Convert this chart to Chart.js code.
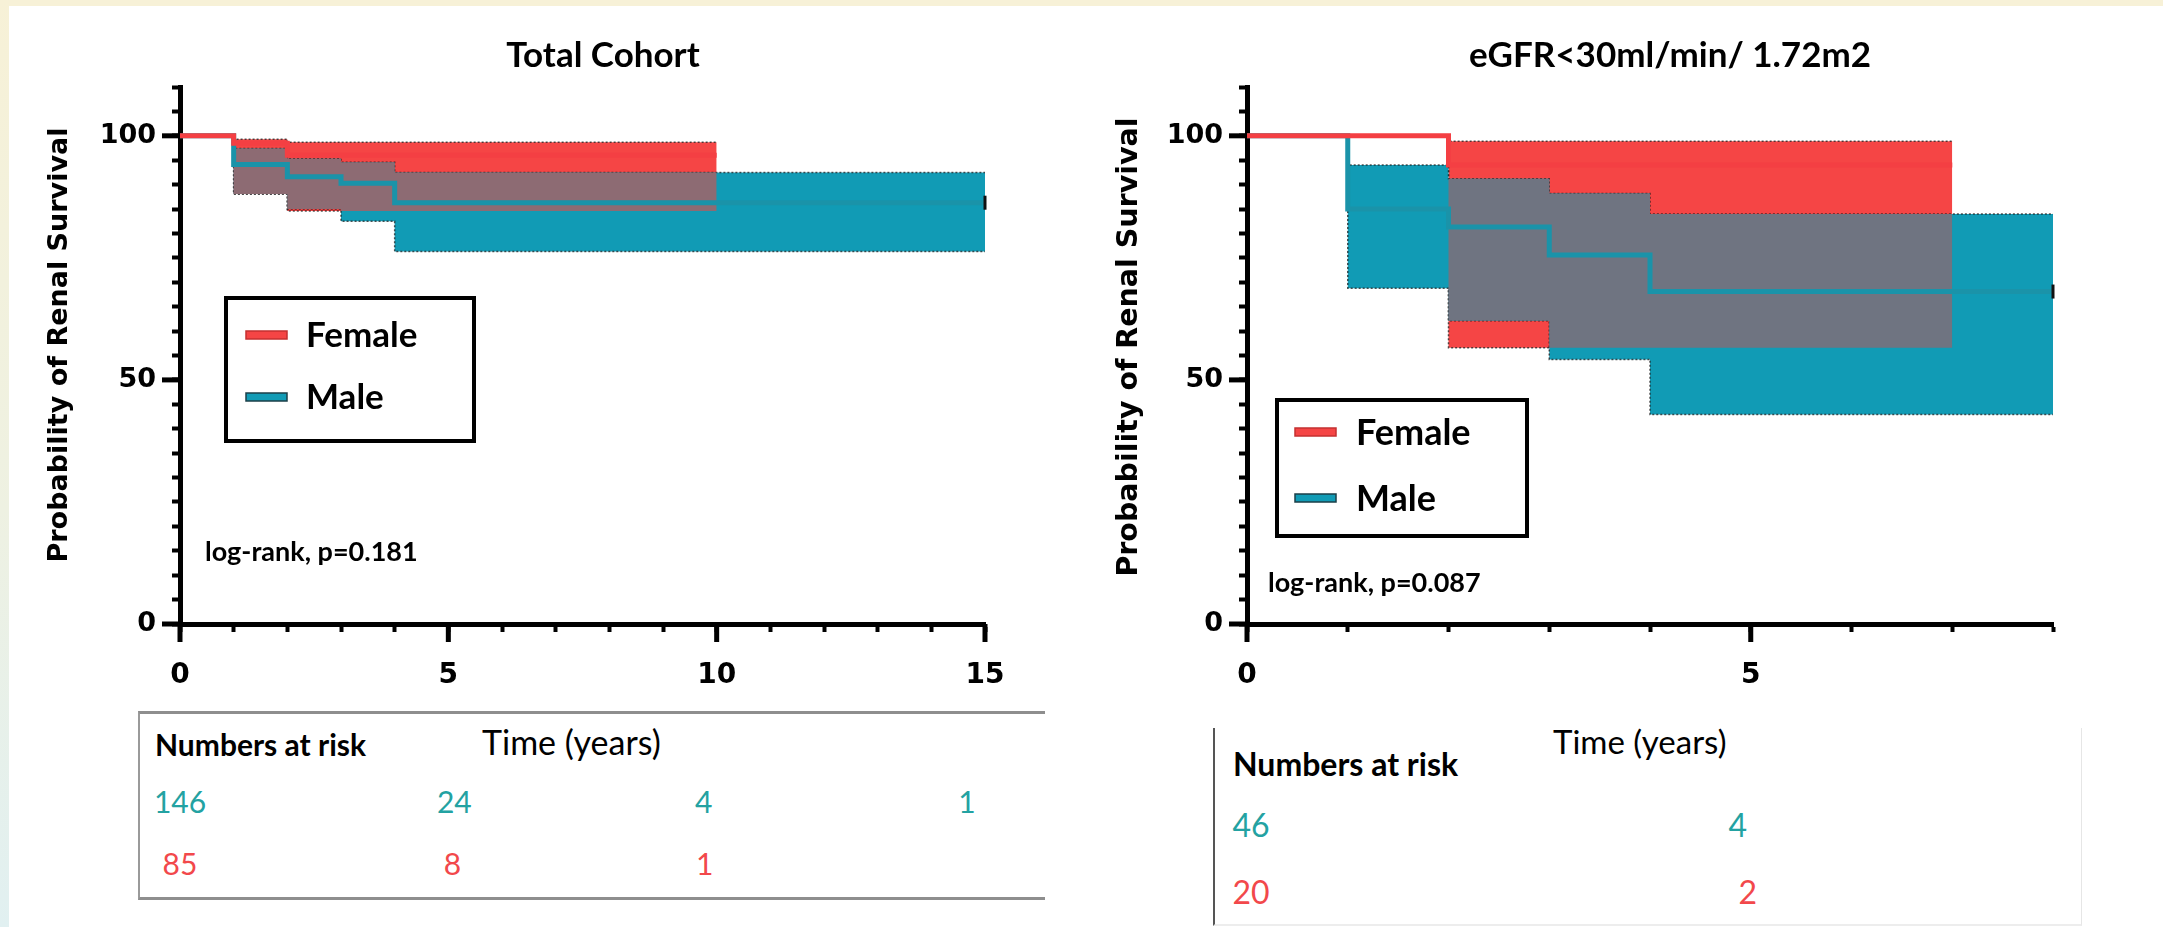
<!DOCTYPE html>
<html>
<head>
<meta charset="utf-8">
<script src="https://cdn.jsdelivr.net/npm/chart.js@4.4.1/dist/chart.umd.min.js"></script>
<style>
  html, body { margin: 0; padding: 0; }
  body { width: 2163px; height: 927px; position: relative; overflow: hidden; background: #fff; font-family: Lato, sans-serif; }
  .band-top { position: absolute; left: 0; top: 0; width: 2163px; height: 6px; background: #f7f1d7; }
  .band-left { position: absolute; left: 0; top: 0; width: 9px; height: 927px; background: linear-gradient(#f7f1d7, #eef1e2 55%, #e1f0f1); }
  canvas { position: absolute; top: 0; }
  #c1 { left: 0; }
  #c2 { left: 1080px; }
  .box1 { position: absolute; left: 138px; top: 711px; width: 905px; height: 183px; border-top: 3px solid #8e8e8e; border-bottom: 3px solid #8e8e8e; border-left: 2px solid #9a9a9a; }
  .box2 { position: absolute; left: 1213px; top: 728px; width: 866px; height: 196px; border-left: 2px solid #555; border-right: 1px solid #e6e6e6; border-bottom: 2px solid #ededed; }
  .lbl { position: absolute; white-space: nowrap; line-height: 1; transform: translateY(-50%); }
  .lbl.c { transform: translate(-50%, -50%); }
</style>
</head>
<body>
<div class="band-top"></div>
<div class="band-left"></div>
<div class="box1"></div>
<div class="box2"></div>
<canvas id="c1" width="1080" height="700"></canvas>
<canvas id="c2" width="1083" height="700"></canvas>
<div id="risk"></div>

<script>
// ---- Total cohort (Kaplan-Meier steps: value holds from each time onward) ----
const totalFemaleT = [0, 1, 2, 10];
const totalFemaleS = [100, 98.5, 96, 96];
const totalFemaleUpper = [100, 99.3, 98.7, 98.7];
const totalFemaleLower = [100, 88.1, 84.6, 84.6];
const totalMaleT = [0, 1, 2, 3, 4, 15];
const totalMaleS = [100, 94.1, 91.6, 90.3, 86.3, 86.3];
const totalMaleUpper = [100, 97.4, 95.3, 94.6, 92.5, 92.5];
const totalMaleLower = [100, 88.1, 85.0, 82.5, 76.3, 76.3];

// ---- eGFR<30 ----
const egfrFemaleT = [0, 2, 7];
const egfrFemaleS = [100, 94, 94];
const egfrFemaleUpper = [100, 98.9, 98.9];
const egfrFemaleLower = [100, 56.6, 56.6];
const egfrMaleT = [0, 1, 2, 3, 4, 8];
const egfrMaleS = [100, 85, 81.3, 75.6, 68.1, 68.1];
const egfrMaleUpper = [100, 94.0, 91.2, 88.2, 84.0, 84.0];
const egfrMaleLower = [100, 68.8, 62.1, 54.2, 42.9, 42.9];

// ---- numbers at risk ----
const riskTimesTotal = [0, 5, 10, 15];
const riskMaleTotal = [146, 24, 4, 1];
const riskFemaleTotal = [85, 8, 1];
const riskTimesEgfr = [0, 5];
const riskMaleEgfr = [46, 4];
const riskFemaleEgfr = [20, 2];

const RED = '#f54545';
const RED_LINE = '#f43f43';
const TEAL = '#119bb5';
const TEAL_LINE = '#1a93a9';
const EDGE = 'rgba(30,30,30,0.75)';

function pts(t, v) {
  return t.map((x, i) => ({ x: x, y: v[i] }));
}

function stepVal(t, v, x) {
  let r = v[0];
  for (let i = 0; i < t.length; i++) if (t[i] <= x) r = v[i];
  return r;
}

// region where both confidence bands cover (drawn in its own colour)
function overlap(tA, upA, loA, tB, upB, loB) {
  const end = Math.min(tA[tA.length - 1], tB[tB.length - 1]);
  const ts = [...new Set([...tA, ...tB])].filter((x) => x <= end).sort((a, b) => a - b);
  const up = [], lo = [];
  ts.forEach((x) => {
    const u = Math.min(stepVal(tA, upA, x), stepVal(tB, upB, x));
    let l = Math.max(stepVal(tA, loA, x), stepVal(tB, loB, x));
    if (l > u) l = u;
    up.push({ x: x, y: u });
    lo.push({ x: x, y: l });
  });
  return { up, lo };
}

function buildDatasets(f, m, overlapColor) {
  const ov = overlap(f.t, f.up, f.lo, m.t, m.up, m.lo);
  const band = { stepped: true, pointRadius: 0, borderWidth: 1.5, borderDash: [2, 2], borderColor: EDGE, tension: 0 };
  return [
    { label: 'Female', data: pts(f.t, f.s), borderColor: RED_LINE, backgroundColor: RED, borderWidth: 5, stepped: true, pointRadius: 0, order: 1, clip: false },
    { label: 'Male', data: pts(m.t, m.s), borderColor: TEAL_LINE, backgroundColor: TEAL, borderWidth: 5, stepped: true, order: 2, clip: false,
      pointRadius: m.t.map((_, i) => (i === m.t.length - 1 ? 7 : 0)), pointStyle: 'line', rotation: 90,
      pointBorderColor: '#111', pointBorderWidth: 3 },
    { label: 'ov-up', data: ov.up, stepped: true, pointRadius: 0, borderWidth: 0, order: 4 },
    { label: 'ov-lo', data: ov.lo, stepped: true, pointRadius: 0, borderWidth: 0, order: 4, fill: '-1', backgroundColor: overlapColor },
    Object.assign({ label: 'm-up', data: pts(m.t, m.up), order: 5 }, band),
    Object.assign({ label: 'm-lo', data: pts(m.t, m.lo), order: 5, fill: '-1', backgroundColor: TEAL }, band),
    Object.assign({ label: 'f-up', data: pts(f.t, f.up), order: 6 }, band),
    Object.assign({ label: 'f-lo', data: pts(f.t, f.lo), order: 6, fill: '-1', backgroundColor: RED }, band)
  ];
}

// longer ticks at labelled values
const majorTicks = {
  id: 'majorTicks',
  afterDraw(chart) {
    const { ctx, chartArea: a, scales: { x, y } } = chart;
    ctx.save();
    ctx.strokeStyle = '#000';
    ctx.lineWidth = 5;
    x.ticks.forEach((t) => {
      if (t.value % 5 !== 0) return;
      const px = x.getPixelForValue(t.value);
      ctx.beginPath(); ctx.moveTo(px, a.bottom); ctx.lineTo(px, a.bottom + 18); ctx.stroke();
    });
    y.ticks.forEach((t) => {
      if (t.value % 50 !== 0) return;
      const py = y.getPixelForValue(t.value);
      ctx.beginPath(); ctx.moveTo(a.left, py); ctx.lineTo(a.left - 18, py); ctx.stroke();
    });
    ctx.restore();
  }
};

// title, y title, boxed legend and log-rank note
const decor = {
  id: 'decor',
  afterDraw(chart, args, o) {
    const ctx = chart.ctx;
    ctx.save();
    ctx.fillStyle = '#000';
    ctx.textBaseline = 'middle';
    ctx.textAlign = 'center';
    ctx.font = 'bold 35px Lato';
    ctx.fillText(o.title, o.titleX, o.titleY);

    ctx.save();
    ctx.translate(o.yTitleX, o.yTitleY);
    ctx.rotate(-Math.PI / 2);
    ctx.font = 'bold ' + o.yTitleSize + 'px "DejaVu Sans"';
    ctx.fillText(o.yTitle, 0, 0);
    ctx.restore();

    const b = o.legend;
    ctx.lineWidth = 4;
    ctx.strokeStyle = '#000';
    ctx.strokeRect(b.x, b.y, b.w, b.h);
    const items = chart.data.datasets.slice(0, 2);
    items.forEach((ds, i) => {
      const yy = b.rowY[i];
      ctx.fillStyle = ds.backgroundColor;
      ctx.fillRect(b.sx, yy - 4, 41, 8);
      ctx.lineWidth = 1.5;
      ctx.strokeStyle = i === 0 ? '#c43030' : '#1b3f48';
      ctx.strokeRect(b.sx, yy - 4, 41, 8);
      ctx.fillStyle = '#000';
      ctx.textAlign = 'left';
      ctx.font = 'bold ' + b.size + 'px Lato';
      ctx.fillText(ds.label, b.tx, yy + 1);
    });

    ctx.font = 'bold 27px Lato';
    ctx.textAlign = 'left';
    ctx.fillText(o.logrank, o.lrX, o.lrY);
    ctx.restore();
  }
};

function makeChart(id, datasets, xMax, decorOpts, rightPad, leftW) {
  return new Chart(document.getElementById(id), {
    type: 'line',
    data: { datasets: datasets },
    options: {
      responsive: false,
      animation: false,
      layout: { padding: { left: 0, top: 87, right: rightPad, bottom: 0 } },
      plugins: {
        legend: { display: false },
        title: { display: false },
        tooltip: { enabled: false },
        filler: { propagate: false },
        decor: decorOpts
      },
      scales: {
        x: {
          type: 'linear', min: 0, max: xMax,
          ticks: { stepSize: 1, autoSkip: false, maxRotation: 0, padding: 27, color: '#000',
            font: { family: 'DejaVu Sans', weight: 'bold', size: 28 },
            callback: (v) => (v % 5 === 0 ? v : '') },
          grid: { drawOnChartArea: false, drawTicks: true, tickLength: 8, tickWidth: 4, tickColor: '#000' },
          border: { display: true, color: '#000', width: 5 },
          afterFit: (s) => { s.height = 76; }
        },
        y: {
          min: 0, max: 110,
          ticks: { stepSize: 5, autoSkip: false, padding: 16, color: '#000',
            font: { family: 'DejaVu Sans', weight: 'bold', size: 27 },
            callback: (v) => (v % 50 === 0 ? v : '') },
          grid: { drawOnChartArea: false, drawTicks: true, tickLength: 8, tickWidth: 4, tickColor: '#000' },
          border: { display: true, color: '#000', width: 5 },
          afterFit: (s) => { s.width = leftW; }
        }
      }
    },
    plugins: [majorTicks, decor]
  });
}

const chartTotal = makeChart('c1',
  buildDatasets(
    { t: totalFemaleT, s: totalFemaleS, up: totalFemaleUpper, lo: totalFemaleLower },
    { t: totalMaleT, s: totalMaleS, up: totalMaleUpper, lo: totalMaleLower },
    '#8d6b73'),
  15,
  { title: 'Total Cohort', titleX: 603, titleY: 56,
    yTitle: 'Probability of Renal Survival', yTitleX: 60, yTitleY: 345, yTitleSize: 27,
    legend: { x: 226, y: 298, w: 248, h: 143, sx: 246, tx: 306, rowY: [335, 397], size: 35 },
    logrank: 'log-rank, p=0.181', lrX: 205, lrY: 552 },
  95, 180);

const chartEgfr = makeChart('c2',
  buildDatasets(
    { t: egfrFemaleT, s: egfrFemaleS, up: egfrFemaleUpper, lo: egfrFemaleLower },
    { t: egfrMaleT, s: egfrMaleS, up: egfrMaleUpper, lo: egfrMaleLower },
    '#6f7481'),
  8,
  { title: 'eGFR<30ml/min/ 1.72m2', titleX: 590, titleY: 56,
    yTitle: 'Probability of Renal Survival', yTitleX: 50, yTitleY: 347, yTitleSize: 28.5,
    legend: { x: 197, y: 400, w: 250, h: 136, sx: 215, tx: 276, rowY: [432, 498], size: 36 },
    logrank: 'log-rank, p=0.087', lrX: 188, lrY: 583 },
  110, 167);

// ---- numbers-at-risk tables, columns aligned on the x scale ----
const riskLayout = {
  total: { canvasLeft: 0, maleY: 801, femaleY: 863, size: 30, nudgeM: [0, 6, -13, -18], nudgeF: [0, 4, -12],
    headX: 155, headY: 744, headSize: 30, timeX: 482, timeY: 741, timeSize: 34 },
  egfr: { canvasLeft: 1080, maleY: 824, femaleY: 891, size: 32, nudgeM: [4, -13], nudgeF: [4, -3],
    headX: 1233, headY: 763, headSize: 32, timeX: 1553, timeY: 741, timeSize: 33 }
};

const riskHost = document.getElementById('risk');
function addLabel(text, x, y, css, centered) {
  const d = document.createElement('div');
  d.className = centered ? 'lbl c' : 'lbl';
  d.textContent = text;
  d.style.left = x + 'px';
  d.style.top = y + 'px';
  d.style.cssText += css;
  riskHost.appendChild(d);
}

function riskTable(chart, L, times, male, female) {
  const sx = chart.scales.x;
  addLabel('Numbers at risk', L.headX, L.headY, 'font: bold ' + L.headSize + 'px Lato; color:#000;');
  addLabel('Time (years)', L.timeX, L.timeY, 'font: ' + L.timeSize + 'px Lato; color:#000;');
  male.forEach((n, i) => {
    const x = L.canvasLeft + sx.getPixelForValue(times[i]) + L.nudgeM[i];
    addLabel(String(n), x, L.maleY, 'font: ' + L.size + 'px Lato; color:#23a2a2;', true);
  });
  female.forEach((n, i) => {
    const x = L.canvasLeft + sx.getPixelForValue(times[i]) + L.nudgeF[i];
    addLabel(String(n), x, L.femaleY, 'font: ' + L.size + 'px Lato; color:#f2484b;', true);
  });
}

riskTable(chartTotal, riskLayout.total, riskTimesTotal, riskMaleTotal, riskFemaleTotal);
riskTable(chartEgfr, riskLayout.egfr, riskTimesEgfr, riskMaleEgfr, riskFemaleEgfr);
</script>
</body>
</html>
